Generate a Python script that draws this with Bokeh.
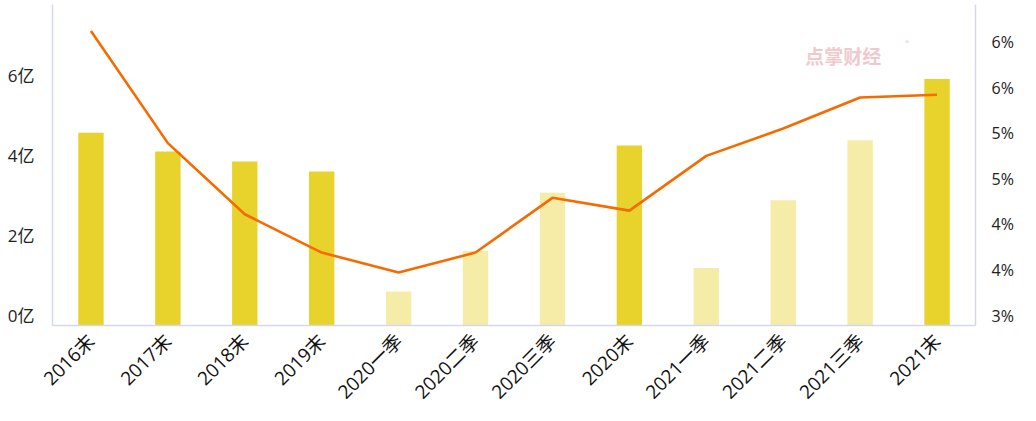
import math
from bokeh.plotting import figure
from bokeh.models import Range1d, FactorRange, LinearAxis, FixedTicker
from bokeh.core.properties import value
from bokeh.embed import file_html
from bokeh.resources import INLINE

categories = ["2016末", "2017末", "2018末", "2019末", "2020一季", "2020二季",
              "2020三季", "2020末", "2021一季", "2021二季", "2021三季", "2021末"]
amounts = [4.82, 4.35, 4.10, 3.85, 0.85, 1.86, 3.32, 4.50, 1.44, 3.13, 4.63, 6.16]
rates = [6.23, 5.00, 4.22, 3.80, 3.58, 3.80, 4.40, 4.26, 4.86, 5.16, 5.50, 5.53]
left_ticks = [0, 2, 4, 6]
left_tick_labels = ["0亿", "2亿", "4亿", "6亿"]
right_ticks = [3, 3.5, 4, 4.5, 5, 5.5, 6]
right_tick_labels = ["3%", "4%", "4%", "5%", "5%", "6%", "6%"]

W, H = 1036, 421
top_b, bot_b, left_b, right_b = 4, 96, 52, 61
frame_h = H - top_b - bot_b
amt_max = 8.025
rate_min, rate_max = 3.0, 6.52
lbl_shift_px = 10
amt_shift = lbl_shift_px * amt_max / frame_h
rate_shift = lbl_shift_px * (rate_max - rate_min) / frame_h

FONT = "'Open Sans', 'Noto Sans CJK SC'"
CJK = "Noto Sans CJK SC"
AXIS_COLOR = "#d3d9ea"
DARK = "#e8d22c"
LIGHT = "#f5eca8"
LINE = "#f56b00"

p = figure(width=W, height=H,
           x_range=FactorRange(*categories, range_padding=0),
           y_range=Range1d(0, amt_max),
           output_backend="svg", toolbar_location=None,
           y_axis_location=None,
           min_border_left=left_b, min_border_right=right_b,
           min_border_top=top_b, min_border_bottom=bot_b)
p.extra_y_ranges = {
    "rate": Range1d(rate_min, rate_max),
    "amt_lbl": Range1d(0 - amt_shift, amt_max - amt_shift),
    "rate_lbl": Range1d(rate_min - rate_shift, rate_max - rate_shift),
}
p.outline_line_color = None
p.xgrid.visible = False
p.ygrid.visible = False
p.background_fill_color = "white"
p.border_fill_color = "white"

colors = [DARK if c.endswith("末") else LIGHT for c in categories]
p.vbar(x=categories, top=amounts, width=0.33, color=colors, line_color=None)
p.line(x=categories, y=rates, y_range_name="rate", line_color=LINE, line_width=2.6)

# watermark
p.text(x=["2021二季"], y=[6.75], text=["点掌财经"], x_offset=22,
       text_color="#f1c9cd", text_font=value(CJK), text_font_style="bold",
       text_font_size="19px", text_baseline="middle", text_align="left")
p.text(x=["2021三季"], y=[7.07], text=["®"], x_offset=45,
       text_color="#f1c9cd", text_font=value(CJK),
       text_font_size="8px", text_baseline="middle", text_align="left")

left_axis = LinearAxis(y_range_name="amt_lbl", ticker=FixedTicker(ticks=left_ticks),
                       major_label_overrides=dict(zip(left_ticks, left_tick_labels)))
right_axis = LinearAxis(y_range_name="rate_lbl", ticker=FixedTicker(ticks=right_ticks),
                        major_label_overrides=dict(zip(right_ticks, right_tick_labels)))
for ax, standoff, size in ((left_axis, 18, "17px"), (right_axis, 16, "16px")):
    ax.axis_line_color = AXIS_COLOR
    ax.axis_line_width = 1.5
    ax.major_tick_line_color = None
    ax.minor_tick_line_color = None
    ax.major_tick_in = 0
    ax.major_tick_out = 0
    ax.minor_tick_in = 0
    ax.minor_tick_out = 0
    ax.major_label_standoff = standoff
    ax.major_label_text_font = FONT
    ax.major_label_text_font_size = size
    ax.major_label_text_color = "#222222"
p.add_layout(left_axis, "left")
p.add_layout(right_axis, "right")

xa = p.xaxis[0]
xa.axis_line_color = AXIS_COLOR
xa.axis_line_width = 1.5
xa.major_tick_line_color = None
xa.major_tick_in = 0
xa.major_tick_out = 0
xa.major_label_orientation = math.pi / 4
xa.major_label_standoff = 12
xa.major_label_text_font = FONT
xa.major_label_text_font_size = "19px"
xa.major_label_text_color = "#111111"

open("out.html", "w").write(file_html(p, INLINE))
